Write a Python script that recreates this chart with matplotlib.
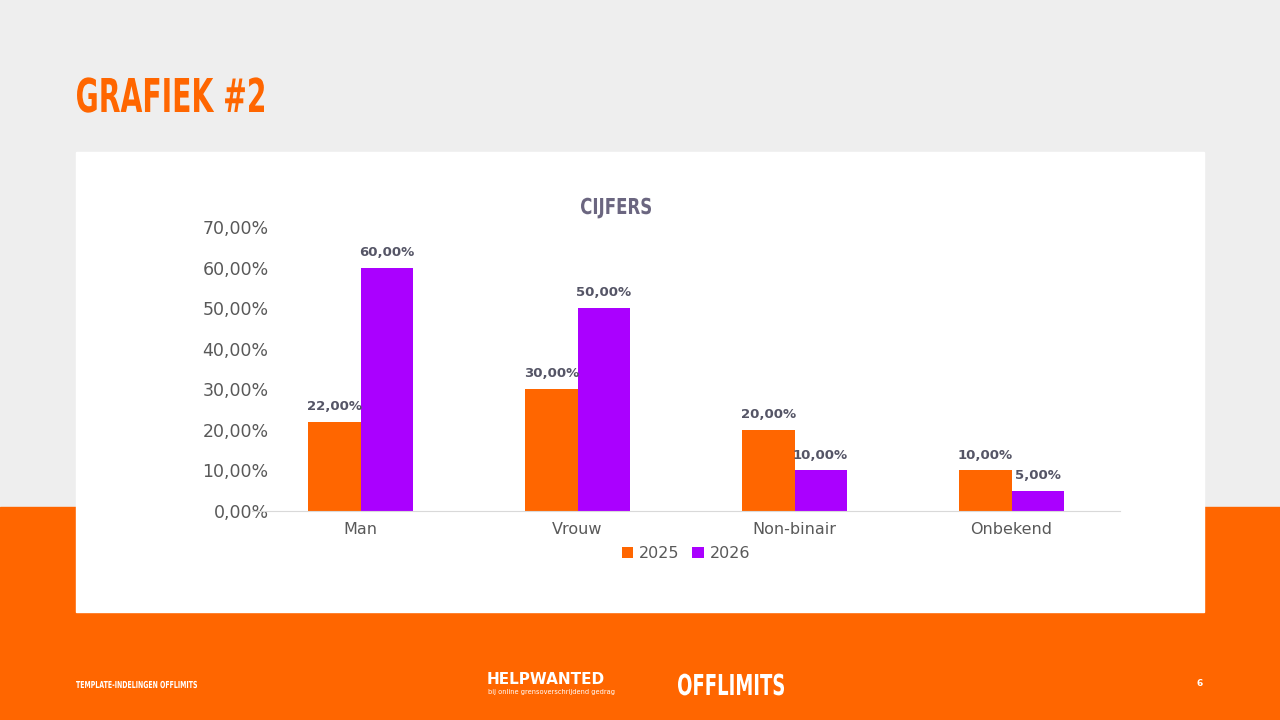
import matplotlib
matplotlib.use("Agg")
import matplotlib.pyplot as plt
from matplotlib.patches import Rectangle, PathPatch
from matplotlib.textpath import TextPath
from matplotlib.font_manager import FontProperties
from matplotlib.transforms import Affine2D
import numpy as np

categories = ["Man", "Vrouw", "Non-binair", "Onbekend"]
series_names = ["2025", "2026"]
values_2025 = [22, 30, 20, 10]
values_2026 = [60, 50, 10, 5]
yticks = [0, 10, 20, 30, 40, 50, 60, 70]

ORANGE = "#FF6600"
PURPLE = "#AA00FF"

fig = plt.figure(figsize=(12.8, 7.2), dpi=100)
fig.patch.set_facecolor("#EEEEEE")
W, H = 1280, 720
def R(x0, y0, x1, y1, c):
    fig.add_artist(Rectangle((x0/W, 1-y1/H), (x1-x0)/W, (y1-y0)/H, transform=fig.transFigure, color=c, zorder=0))
R(0, 507, 1280, 720, ORANGE)
R(76, 152, 1204, 612, "white")

bg = fig.add_axes([0, 0, 1, 1])
bg.set_xlim(0, W); bg.set_ylim(H, 0); bg.axis("off"); bg.set_zorder(5)

def squeezed(text, x0, y_base, x1, cap_h, color):
    tp = TextPath((0, 0), text, size=100, prop=FontProperties(family="DejaVu Sans", weight="bold"))
    ext = tp.get_extents()
    sx = (x1 - x0) / ext.width
    sy = cap_h / 72.9
    tr = Affine2D().translate(-ext.x0, 0).scale(sx, -sy).translate(x0, y_base)
    bg.add_patch(PathPatch(tr.transform_path(tp), color=color, lw=0))

squeezed("GRAFIEK #2", 77, 112, 264, 34, ORANGE)
squeezed("CIJFERS", 581, 214, 651, 16, "#6B6680")
squeezed("OFFLIMITS", 678, 695, 784, 21, "white")
squeezed("TEMPLATE-INDELINGEN OFFLIMITS", 76, 688, 197, 7, "white")

ax = fig.add_axes([252/W, 1-511/H, 868/W, 284/H])
ax.set_facecolor("none")
x = np.arange(len(categories))
w = 0.24
b1 = ax.bar(x - w/2, values_2025, w, color=ORANGE, label=series_names[0])
b2 = ax.bar(x + w/2, values_2026, w, color=PURPLE, label=series_names[1])
for bars in (b1, b2):
    for b in bars:
        ax.text(b.get_x()+b.get_width()/2, b.get_height()+2.2, f"{b.get_height():.2f}%".replace(".", ","),
                ha="center", va="bottom", fontsize=9.5, fontweight="bold", color="#555566")
ax.set_xlim(-0.5, 3.5)
ax.set_ylim(0, 70)
ax.set_yticks(yticks)
ax.set_yticklabels([f"{v},00%" for v in yticks], fontsize=12.5, color="#595959")
ax.set_xticks(x)
ax.set_xticklabels(categories, fontsize=11.5, color="#595959")
ax.tick_params(length=0, pad=8)
ax.tick_params(axis="y", pad=-12)
for s in ["top", "right", "left"]:
    ax.spines[s].set_visible(False)
ax.spines["bottom"].set_color("#D9D9D9")
ax.legend(loc="center", bbox_to_anchor=(0.5, -0.15), ncol=2, frameon=False, fontsize=11.5,
          handlelength=0.7, handleheight=0.7, columnspacing=0.8, handletextpad=0.4, labelcolor="#595959")

fig.text(487/W, 1-680/H, "HELPWANTED", color="white", fontsize=11, fontweight="bold", va="center")
fig.text(488/W, 1-692/H, "bij online grensoverschrijdend gedrag", color="white", fontsize=4.8, va="center")
fig.text(1203/W, 1-684/H, "6", color="white", fontsize=6.5, fontweight="bold", va="center", ha="right")

fig.savefig("out.png", dpi=100, facecolor=fig.get_facecolor())
